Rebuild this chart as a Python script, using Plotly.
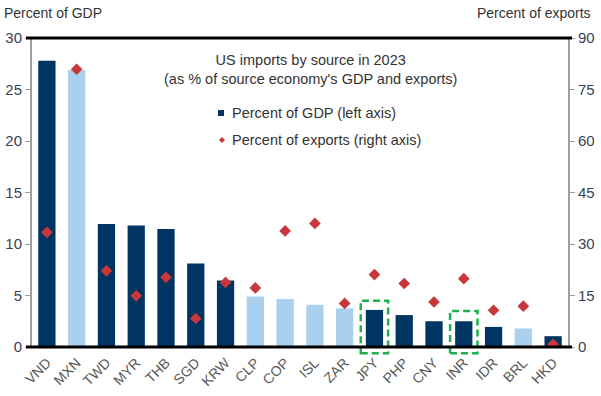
import plotly.graph_objects as go

categories = ["VND", "MXN", "TWD", "MYR", "THB", "SGD", "KRW", "CLP", "COP", "ISL",
              "ZAR", "JPY", "PHP", "CNY", "INR", "IDR", "BRL", "HKD"]
pct_gdp = [27.8, 26.9, 11.95, 11.8, 11.45, 8.1, 6.45, 4.9, 4.65, 4.1,
           3.75, 3.6, 3.1, 2.5, 2.5, 1.95, 1.8, 1.05]
pct_exports = [33.4, 80.9, 22.2, 14.9, 20.3, 8.3, 18.8, 17.2, 33.8, 36.0,
               12.7, 21.1, 18.5, 13.1, 19.9, 10.7, 11.9, 0.8]
light_categories = ["MXN", "CLP", "COP", "ISL", "ZAR", "BRL"]
highlighted = ["JPY", "INR"]
highlight_tops = [4.5, 3.5]
left_ticks = [0, 5, 10, 15, 20, 25, 30]
right_ticks = [0, 15, 30, 45, 60, 75, 90]
LEFT_MAX = 30
RIGHT_MAX = 90

DARK = "#003462"
LIGHT = "#A9D1EF"
RED = "#C8373B"
GREEN = "#1DB04B"
FONT = "Liberation Sans, Arial, sans-serif"
TXT = "#333333"

bar_colors = [LIGHT if c in light_categories else DARK for c in categories]

fig = go.Figure()
fig.add_trace(go.Bar(
    x=categories, y=pct_gdp, marker=dict(color=bar_colors, line=dict(width=0)),
    width=0.58, name="Percent of GDP (left axis)", showlegend=False, yaxis="y"))
fig.add_trace(go.Scatter(
    x=categories, y=pct_exports, mode="markers",
    marker=dict(symbol="diamond", size=9, color=RED),
    name="Percent of exports (right axis)", showlegend=False, yaxis="y2"))

PW, PL, PB, PH = 536, 32, 347, 309

def px(x):
    return (x - PL) / PW

def py(y):
    return (PB - y) / PH

n = len(categories)
shapes = []
for cat, top in zip(highlighted, highlight_tops):
    i = categories.index(cat)
    shapes.append(dict(type="rect", xref="paper", yref="paper",
                       x0=(i + 0.04) / n, x1=(i + 0.96) / n,
                       y0=-0.6 / LEFT_MAX, y1=top / LEFT_MAX,
                       line=dict(color=GREEN, width=2.5, dash="7px,4px"),
                       fillcolor="rgba(0,0,0,0)", layer="above"))
# top and bottom black frame lines
for yv in (0, 1):
    shapes.append(dict(type="line", xref="paper", yref="paper",
                       x0=px(26), x1=px(572), y0=yv, y1=yv,
                       line=dict(color="black", width=3), layer="above"))
# legend symbols
shapes.append(dict(type="rect", xref="paper", yref="paper",
                   x0=px(218), x1=px(224), y0=py(116), y1=py(110),
                   fillcolor=DARK, line=dict(width=0)))
shapes.append(dict(type="path", xref="paper", yref="paper",
                   path="M {a},{b} L {c},{d} L {a},{e} L {f},{d} Z".format(
                       a=px(222), b=py(137), c=px(225), d=py(140),
                       e=py(143), f=px(219)),
                   fillcolor=RED, line=dict(width=0)))

annotations = [
    dict(text="Percent of GDP", xref="paper", yref="paper", x=px(2), y=py(13),
         xanchor="left", yanchor="middle", showarrow=False,
         font=dict(family=FONT, size=14, color=TXT)),
    dict(text="Percent of exports", xref="paper", yref="paper", x=px(593), y=py(13),
         xanchor="right", yanchor="middle", showarrow=False,
         font=dict(family=FONT, size=14, color=TXT)),
    dict(text="US imports by source in 2023<br>(as % of source economy's GDP and exports)",
         xref="paper", yref="paper", x=px(310), y=py(69),
         xanchor="center", yanchor="middle", showarrow=False, align="center",
         font=dict(family=FONT, size=14.5, color=TXT)),
    dict(text="Percent of GDP (left axis)", xref="paper", yref="paper",
         x=px(230), y=py(113), xanchor="left", yanchor="middle",
         showarrow=False, font=dict(family=FONT, size=14.5, color=TXT)),
    dict(text="Percent of exports (right axis)", xref="paper", yref="paper",
         x=px(230), y=py(140), xanchor="left", yanchor="middle",
         showarrow=False, font=dict(family=FONT, size=14.5, color=TXT)),
]

fig.update_layout(
    width=601, height=396,
    margin=dict(l=32, r=33, t=38, b=49),
    paper_bgcolor="white", plot_bgcolor="white",
    font=dict(family=FONT, size=14, color="#404040"),
    xaxis=dict(type="category", categoryorder="array", categoryarray=categories,
               tickangle=-45, tickfont=dict(size=14, color="#595959"),
               ticklabelstandoff=4, automargin=False,
               showgrid=False, showline=False, ticks="", zeroline=False,
               range=[-0.5, n - 0.5]),
    yaxis=dict(range=[0, LEFT_MAX], tickvals=left_ticks, showgrid=False, zeroline=False,
               showline=True, linecolor="#A0A0A0", linewidth=2, automargin=False,
               ticks="outside", ticklen=5, tickcolor="#A0A0A0",
               tickfont=dict(size=15, color="#3A3F55")),
    yaxis2=dict(range=[0, RIGHT_MAX], tickvals=right_ticks, overlaying="y", side="right",
                showgrid=False, zeroline=False, automargin=False,
                showline=True, linecolor="#A0A0A0", linewidth=2,
                ticks="outside", ticklen=5, tickcolor="#A0A0A0",
                tickfont=dict(size=15, color="#3A3F55")),
    shapes=shapes,
    annotations=annotations,
    showlegend=False,
)

fig.write_html("out.html", config={"displayModeBar": False},
               post_script="document.body.style.margin='0';")
